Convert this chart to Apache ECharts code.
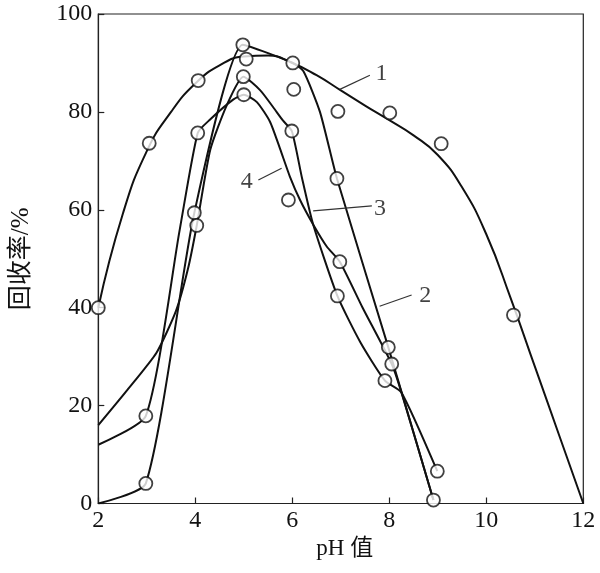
<!DOCTYPE html>
<html>
<head>
<meta charset="utf-8">
<script src="https://cdn.jsdelivr.net/npm/echarts@6/dist/echarts.min.js"></script>
<style>
html,body{margin:0;padding:0;background:#fff;}
#chart{width:600px;height:573px;}
</style>
</head>
<body>
<div id="chart"></div>
<script>
// ---- data (x = pH, y = 回收率 %) ----
const xLabel = 'pH 值';
const yLabel = '回收率/%';
const xRange = [2, 12];
const yRange = [0, 100];

// fitted curves
const curve1Line = [[2,40],[2.5,59],[3,72],[3.5,80],[4,85.8],[4.5,89.5],[5,91.3],[5.5,91.5],[6,90],[6.5,87.5],[7,84.4],[7.5,81.3],[8,78.3],[8.5,75.2],[9,71.2],[9.5,64.6],[10,55],[10.5,42],[11,28],[11.5,14],[12,0]];
const curve2Line = [[2,0],[2.98,4.1],[3.98,59.4],[4.98,93.7],[5.5,92],[6.01,90],[6.23,88.3],[6.57,80],[6.92,66.4],[7.98,31.9],[8.91,0.7]];
const curve3Line = [[2,16],[2.6,23.2],[3.2,30.8],[3.6,39.3],[3.85,48],[4.03,56.8],[4.31,72.3],[4.65,81.4],[4.99,87.2],[5.34,84.4],[5.61,80.9],[5.81,78.2],[5.99,76.1],[6.2,66.5],[6.43,57],[6.93,42.4],[7.4,33],[7.91,25.1],[8.25,22.7],[8.99,6.6]];
const curve4Line = [[2,12],[2.98,17.9],[3.68,56],[4.05,75.7],[4.3,78.4],[4.78,82.5],[5.0,83.5],[5.27,82],[5.54,78],[5.75,72.4],[5.95,66.8],[6.16,62],[6.43,57],[6.71,52.5],[6.98,49.4],[7.45,40],[8.05,28.5],[8.25,22.7],[8.91,0.7]];

// measured points (open circles)
const curve1Pts = [[2,40],[3.05,73.6],[4.06,86.4],[5.05,90.8],[6.03,84.6],[6.94,80.1],[8.01,79.8],[9.07,73.5],[10.56,38.5]];
const curve2Pts = [[2.98,4.1],[3.98,59.4],[4.98,93.7],[6.01,90],[6.92,66.4],[7.98,31.9],[8.91,0.7]];
const curve3Pts = [[4.03,56.8],[4.99,87.2],[5.99,76.1],[6.93,42.4],[7.91,25.1],[8.99,6.6]];
const curve4Pts = [[2.98,17.9],[4.05,75.7],[5.0,83.5],[5.92,62],[6.98,49.4],[8.05,28.5]];

// curve number labels: text, text position, leader start, leader end (data coords)
const curveNames = ['1','2','3','4'];
const nameTextAt = [[7.84,87.9],[8.74,42.4],[7.81,60.3],[5.06,65.7]];
const leaderFrom = [[7.60,87.5],[8.46,42.6],[7.64,60.8],[5.30,66.1]];
const leaderTo   = [[6.98,84.6],[7.80,40.3],[6.43,59.8],[5.78,68.5]];

// ---- chart ----
const serif = '"Liberation Serif", "Noto Sans CJK SC", serif';
const series = [];
[curve1Line, curve2Line, curve3Line, curve4Line].forEach((d, i) => {
  series.push({
    type: 'line', data: d, showSymbol: false, symbol: 'none',
    smooth: i === 0 ? 0.5 : 0.2,
    lineStyle: { color: '#111', width: 2 }, z: 2, silent: true
  });
});
[curve1Pts, curve2Pts, curve3Pts, curve4Pts].forEach(d => {
  series.push({
    type: 'scatter', data: d, symbol: 'circle', symbolSize: 13,
    itemStyle: { color: '#fff', borderColor: '#111', borderWidth: 1.8 }, z: 5, silent: true
  });
});
curveNames.forEach((n, i) => {
  series.push({
    type: 'line', data: [leaderFrom[i], leaderTo[i]], symbol: 'none',
    lineStyle: { color: '#333', width: 1.2 }, z: 3, silent: true
  });
});
series.push({
  type: 'scatter', symbolSize: 0, z: 6, silent: true,
  data: nameTextAt.map((p, i) => ({ value: p, name: curveNames[i] })),
  label: { show: true, position: 'inside', formatter: p => p.name,
           fontFamily: serif, fontSize: 24, color: '#111' }
});

const chart = echarts.init(document.getElementById('chart'), null, { renderer: 'canvas' });
chart.setOption({
  animation: false,
  backgroundColor: '#fff',
  grid: { left: 98.3, right: 16.7, top: 14, bottom: 69.5, show: true, borderColor: '#222', borderWidth: 1.2 },
  xAxis: {
    type: 'value', min: xRange[0], max: xRange[1], interval: 2,
    name: xLabel, nameLocation: 'middle', nameGap: 33,
    nameTextStyle: { fontFamily: serif, fontSize: 23, color: '#111', padding: [0, 0, 0, 8] },
    axisLine: { show: true, lineStyle: { color: '#222', width: 1.2 } },
    axisTick: { show: true, inside: true, length: 6, lineStyle: { color: '#222', width: 1.2 } },
    axisLabel: { fontFamily: serif, fontSize: 24, color: '#111', margin: 5 },
    splitLine: { show: false }
  },
  yAxis: {
    type: 'value', min: yRange[0], max: yRange[1], interval: 20,
    name: yLabel, nameLocation: 'middle', nameGap: 64,
    nameTextStyle: { fontFamily: serif, fontSize: 25, color: '#111' },
    axisLine: { show: true, lineStyle: { color: '#222', width: 1.2 } },
    axisTick: { show: true, inside: true, length: 6, lineStyle: { color: '#222', width: 1.2 } },
    axisLabel: { fontFamily: serif, fontSize: 24, color: '#111', margin: 6 },
    splitLine: { show: false }
  },
  series: series
});
</script>
</body>
</html>
